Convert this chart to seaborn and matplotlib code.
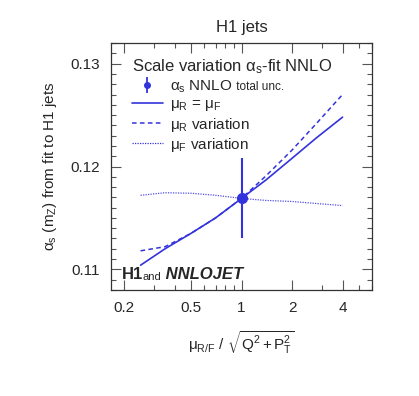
import numpy as np
import pandas as pd
import matplotlib
matplotlib.use("Agg")
import matplotlib.pyplot as plt
import seaborn as sns
from matplotlib.lines import Line2D
from matplotlib.ticker import FixedLocator, NullFormatter, MultipleLocator, LogLocator

# ---- data ----
scale = [0.25, 0.35, 0.5, 0.7, 1.0, 1.4, 2.0, 2.8, 4.0]
as_muR_eq_muF = [0.1104, 0.1120, 0.1135, 0.1150, 0.1169, 0.1187, 0.1208, 0.1228, 0.1248]
as_muR_var = [0.1118, 0.1122, 0.1135, 0.1150, 0.1169, 0.1191, 0.1216, 0.1242, 0.1270]
as_muF_var = [0.1172, 0.11745, 0.1174, 0.1172, 0.1169, 0.1167, 0.1166, 0.1164, 0.1162]
central_x = [1.0]
central_y = [0.1169]
err_up = [0.0039]
err_dn = [0.0039]
xtick_vals = [0.2, 0.5, 1, 2, 4]
xtick_labels = ["0.2", "0.5", "1", "2", "4"]
ytick_vals = [0.11, 0.12, 0.13]
ytick_labels = ["0.11", "0.12", "0.13"]

sns.set_style("ticks")
plt.rcParams['font.family'] = ['Liberation Sans', 'DejaVu Sans']
plt.rcParams['mathtext.fontset'] = 'custom'
plt.rcParams['mathtext.rm'] = 'Liberation Sans'
plt.rcParams['mathtext.it'] = 'Liberation Sans:italic'

col = '#3333dd'

fig = plt.figure(figsize=(4.19, 3.96), dpi=100)
ax = fig.add_axes([0.265, 0.268, 0.623, 0.623])

df = pd.DataFrame({'x': scale, 'eq': as_muR_eq_muF, 'r': as_muR_var, 'f': as_muF_var})
sns.lineplot(data=df, x='x', y='r', ax=ax, color=col, linestyle=(0, (3, 2.2)), linewidth=1.1)
sns.lineplot(data=df, x='x', y='f', ax=ax, color=col, linestyle=(0, (1, 1)), linewidth=0.9, alpha=0.85)
sns.lineplot(data=df, x='x', y='eq', ax=ax, color=col, linestyle='-', linewidth=1.2)
ax.errorbar(central_x, central_y, yerr=[err_dn, err_up], fmt='o', color=col,
            markersize=7, elinewidth=1.5, capsize=0, zorder=5)

ax.set_xscale('log')
ax.set_xlim(1/6, 6)
ax.set_ylim(0.108, 0.132)
ax.xaxis.set_major_locator(FixedLocator(xtick_vals))
ax.set_xticklabels(xtick_labels)
ax.xaxis.set_minor_locator(LogLocator(base=10, subs=np.arange(2, 10)))
ax.xaxis.set_minor_formatter(NullFormatter())
ax.yaxis.set_major_locator(FixedLocator(ytick_vals))
ax.set_yticklabels(ytick_labels)
ax.yaxis.set_minor_locator(MultipleLocator(0.001))

ax.tick_params(which='both', direction='in', top=True, right=True, labelsize=11, color='#555555')
ax.tick_params(which='major', length=7, width=0.8, pad=8)
ax.tick_params(which='minor', length=3.5, width=0.8)
for s in ax.spines.values():
    s.set_linewidth(0.9)
    s.set_color('#333333')

ax.set_title('H1 jets', fontsize=12, pad=8)
ax.set_xlabel(r'μ$_{\rm R/F}$ / $\sqrt{\rm Q^2 + P_T^2}$', fontsize=11, labelpad=10)
ax.set_ylabel(r'α$_{\rm s}$ (m$_{\rm Z}$) from fit to H1 jets', fontsize=11, labelpad=8)

# legend marker with a small vertical error bar
h0 = Line2D([], [], color=col, marker='o', linestyle='none', markersize=4)
h0b = Line2D([], [], color=col, marker='|', linestyle='none', markersize=11, markeredgewidth=1.3)
handles = [
    (h0b, h0),
    Line2D([], [], color=col, linestyle='-', linewidth=1.2),
    Line2D([], [], color=col, linestyle=(0, (3, 2.2)), linewidth=1.1),
    Line2D([], [], color=col, linestyle=(0, (1, 1)), linewidth=0.9),
]
labels = [r'α$_{\rm s}$ NNLO', r'μ$_{\rm R}$ = μ$_{\rm F}$',
          r'μ$_{\rm R}$ variation', r'μ$_{\rm F}$ variation']
leg = ax.legend(handles, labels, loc='upper left', bbox_to_anchor=(0.04, 0.985),
                frameon=False, fontsize=11, title=r'Scale variation α$_{\rm s}$-fit NNLO',
                title_fontsize=12, handlelength=2.0, handletextpad=0.5,
                labelspacing=0.15, borderaxespad=0.3)
leg._legend_box.align = 'left'

fig.canvas.draw()
bb = leg.get_texts()[0].get_window_extent()
x0, y0 = fig.transFigure.inverted().transform((bb.x1, bb.y0))
fig.text(x0, y0 + 0.004, ' total unc.', fontsize=8.5, va='bottom', ha='left')

t1 = ax.text(0.04, 0.045, 'H1', transform=ax.transAxes, fontsize=12, fontweight='bold',
             ha='left', va='baseline')
t2 = ax.annotate('and', xy=(1, 0), xycoords=t1, fontsize=8, va='bottom', ha='left')
t3 = ax.annotate(' NNLOJET', xy=(1, 0), xycoords=t2, fontsize=12, fontweight='bold',
                 fontstyle='italic', va='bottom', ha='left')

fig.savefig('out.png', dpi=100)
